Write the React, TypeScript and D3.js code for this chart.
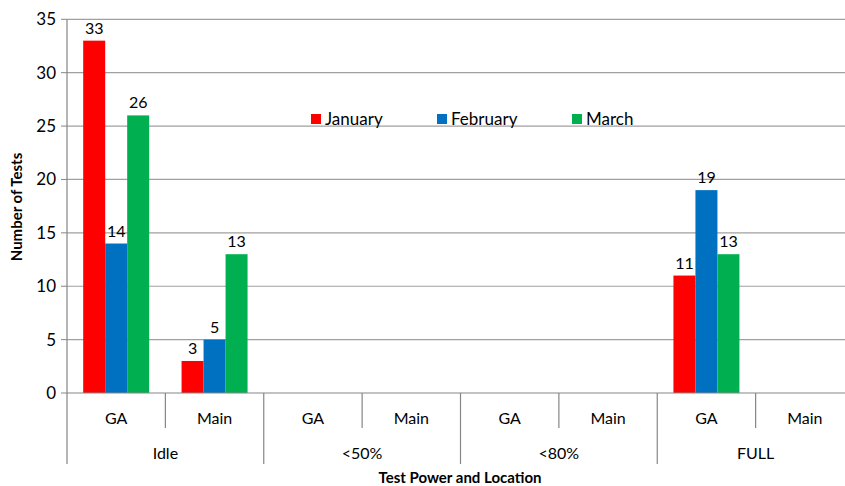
import React, { useEffect, useRef } from 'react';
import * as d3 from 'd3';

const groups = ['Idle', '<50%', '<80%', 'FULL'];
const locations = ['GA', 'Main'];
const seriesNames = ['January', 'February', 'March'];
const seriesColors = ['#FF0000', '#0070C0', '#00B050'];
// one value per (group, location) pair, null = no bar
const january = [33, 3, null, null, null, null, 11, null];
const february = [14, 5, null, null, null, null, 19, null];
const march = [26, 13, null, null, null, null, 13, null];
const yTicks = [0, 5, 10, 15, 20, 25, 30, 35];

const W = 845;
const H = 486;
const FONT = 'Lato, "Open Sans", sans-serif';

export default function App() {
  const ref = useRef<SVGSVGElement>(null);

  useEffect(() => {
    const svg = d3.select(ref.current);
    svg.selectAll('*').remove();

    const left = 67;
    const right = 854;
    const top = 19.3;
    const bottom = 393;

    const keys: string[] = [];
    groups.forEach((g) => locations.forEach((l) => keys.push(g + '|' + l)));
    const values = [january, february, march];

    const x0 = d3.scaleBand().domain(keys).range([left, right]).padding(0);
    const xg = d3.scaleBand().domain(groups).range([left, right]).padding(0);
    const x1 = d3
      .scaleBand()
      .domain(seriesNames)
      .range([0, x0.bandwidth()])
      .paddingInner(0)
      .paddingOuter(0.736);
    const y = d3.scaleLinear().domain([0, 35]).range([bottom, top]);

    // gridlines
    svg
      .append('g')
      .selectAll('line')
      .data(yTicks.filter((t) => t > 0))
      .enter()
      .append('line')
      .attr('x1', left)
      .attr('x2', right)
      .attr('y1', (d) => y(d))
      .attr('y2', (d) => y(d))
      .attr('stroke', '#A0A0A0')
      .attr('stroke-width', 1.2);

    // y ticks + labels
    const yg = svg.append('g');
    yg.selectAll('line')
      .data(yTicks)
      .enter()
      .append('line')
      .attr('x1', left - 6)
      .attr('x2', left)
      .attr('y1', (d) => y(d))
      .attr('y2', (d) => y(d))
      .attr('stroke', '#868686');
    yg.selectAll('text')
      .data(yTicks)
      .enter()
      .append('text')
      .attr('x', left - 11)
      .attr('y', (d) => y(d))
      .attr('dy', '0.35em')
      .attr('text-anchor', 'end')
      .attr('font-size', 17)
      .attr('font-family', FONT)
      .text((d) => d);

    // bars
    values.forEach((vals, si) => {
      const g = svg.append('g');
      const pts = keys
        .map((k, i) => ({ k, v: vals[i] }))
        .filter((d) => d.v !== null) as { k: string; v: number }[];
      g.selectAll('rect')
        .data(pts)
        .enter()
        .append('rect')
        .attr('x', (d) => (x0(d.k) as number) + (x1(seriesNames[si]) as number))
        .attr('width', x1.bandwidth())
        .attr('y', (d) => y(d.v))
        .attr('height', (d) => bottom - y(d.v))
        .attr('fill', seriesColors[si]);
      g.selectAll('text')
        .data(pts)
        .enter()
        .append('text')
        .attr('x', (d) => (x0(d.k) as number) + (x1(seriesNames[si]) as number) + x1.bandwidth() / 2)
        .attr('y', (d) => y(d.v) - 7)
        .attr('text-anchor', 'middle')
        .attr('font-size', 16)
        .attr('font-family', FONT)
        .text((d) => d.v);
    });

    // axes lines
    const ax = svg.append('g').attr('stroke', '#868686').attr('stroke-width', 1.2);
    ax.append('line').attr('x1', left).attr('x2', left).attr('y1', top).attr('y2', 464);
    ax.append('line').attr('x1', left).attr('x2', right).attr('y1', bottom).attr('y2', bottom);
    // sub-category dividers
    ax.selectAll('.sub')
      .data(groups)
      .enter()
      .append('line')
      .attr('x1', (g) => x0(g + '|Main') as number)
      .attr('x2', (g) => x0(g + '|Main') as number)
      .attr('y1', bottom)
      .attr('y2', 428);
    // group dividers
    ax.selectAll('.grp')
      .data(groups.slice(1))
      .enter()
      .append('line')
      .attr('x1', (g) => xg(g) as number)
      .attr('x2', (g) => xg(g) as number)
      .attr('y1', bottom)
      .attr('y2', 464);

    // category labels
    svg
      .append('g')
      .selectAll('text')
      .data(keys)
      .enter()
      .append('text')
      .attr('x', (k) => (x0(k) as number) + x0.bandwidth() / 2)
      .attr('y', 418)
      .attr('dy', '0.35em')
      .attr('text-anchor', 'middle')
      .attr('font-size', 16)
      .attr('font-family', FONT)
      .text((k) => k.split('|')[1]);
    svg
      .append('g')
      .selectAll('text')
      .data(groups)
      .enter()
      .append('text')
      .attr('x', (g) => (xg(g) as number) + xg.bandwidth() / 2)
      .attr('y', 453)
      .attr('dy', '0.35em')
      .attr('text-anchor', 'middle')
      .attr('font-size', 16)
      .attr('font-family', FONT)
      .text((g) => g);

    // axis titles
    svg
      .append('text')
      .attr('x', 460)
      .attr('y', 478)
      .attr('dy', '0.35em')
      .attr('text-anchor', 'middle')
      .attr('font-size', 15)
      .attr('font-weight', 'bold')
      .attr('font-family', FONT)
      .text('Test Power and Location');
    svg
      .append('text')
      .attr('transform', 'translate(17,207) rotate(-90)')
      .attr('dy', '0.35em')
      .attr('text-anchor', 'middle')
      .attr('font-size', 15)
      .attr('font-weight', 'bold')
      .attr('font-family', FONT)
      .text('Number of Tests');

    // legend
    const legX = [311, 437, 572];
    const leg = svg.append('g');
    seriesNames.forEach((name, i) => {
      leg.append('rect')
        .attr('x', legX[i])
        .attr('y', 114)
        .attr('width', 10)
        .attr('height', 10)
        .attr('fill', seriesColors[i]);
      leg.append('text')
        .attr('x', legX[i] + 14)
        .attr('y', 119)
        .attr('dy', '0.35em')
        .attr('font-size', 17)
        .attr('font-family', FONT)
        .text(name);
    });
  }, []);

  return (
    <svg
      ref={ref}
      width={W}
      height={H}
      style={{ position: 'absolute', left: 0, top: 0, background: '#fff' }}
    />
  );
}
